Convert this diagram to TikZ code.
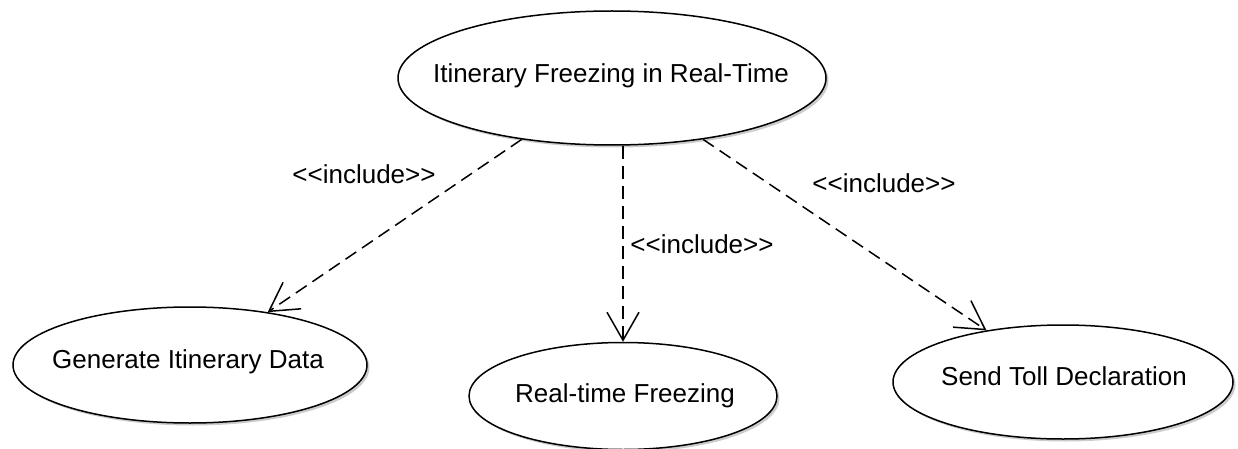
\documentclass[tikz,border=0pt]{standalone}
\usepackage{fontspec}
\setmainfont{Liberation Sans}
\usetikzlibrary{arrows.meta,shadows,shapes.geometric}
\begin{document}
\begin{tikzpicture}[x=1pt,y=-1pt,
  usecase/.style={ellipse,draw=black,line width=1.5pt,fill=white,inner sep=0pt,
    drop shadow={shadow xshift=2.5pt,shadow yshift=-2.5pt,opacity=0.2,fill=black}},
  txt/.style={font=\fontsize{26pt}{30pt}\selectfont,anchor=base,inner sep=0pt},
  incl/.style={draw=black,line width=1.5pt,dash pattern=on 13pt off 7pt,
    -{Straight Barb[length=28pt,width=32pt]}}]
\useasboundingbox[fill=white] (0,0) rectangle (1238,449);
\node[usecase,minimum width=428pt,minimum height=134pt] (top) at (612,78) {};
\node[usecase,minimum width=354pt,minimum height=116pt] (gen) at (190,365) {};
\node[usecase,minimum width=308pt,minimum height=107pt] (rt) at (623,396) {};
\node[usecase,minimum width=340pt,minimum height=114pt] (send) at (1063,382) {};
\node[txt] (ttop) at (611,83) {Itinerary Freezing in Real-Time};
\node[txt] (tgen) at (188,368) {Generate Itinerary Data};
\node[txt] (trt) at (625,402) {Real-time Freezing};
\node[txt] (tsend) at (1064,385) {Send Toll Declaration};
\draw[incl] (top) -- (gen);
\draw[incl] (top.south -| rt.north) -- (rt.north);
\draw[incl] (top) -- (send);
\node[txt] (l1) at (364,183) {<{}<include>{}>};
\node[txt] (l2) at (702,253) {<{}<include>{}>};
\node[txt] (l3) at (884,193) {<{}<include>{}>};
\end{tikzpicture}
\end{document}
